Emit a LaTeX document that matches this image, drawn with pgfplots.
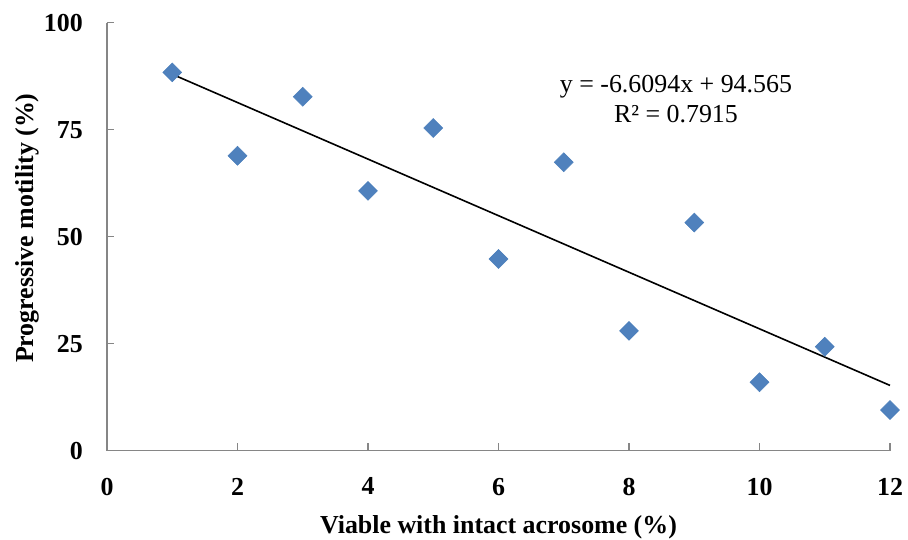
\documentclass[border=0pt]{standalone}
\usepackage{fontspec}
\setmainfont{Liberation Serif}
\usepackage{pgfplots}
\pgfplotsset{compat=1.18}
\definecolor{mblue}{HTML}{4A7EBB}
\definecolor{mfill}{HTML}{4F81BD}
\definecolor{axgray}{HTML}{868686}
\begin{document}
\begin{tikzpicture}
\useasboundingbox (-107bp,-89.3bp) rectangle (801bp,450.7bp);
\begin{axis}[
  at={(0,0)}, anchor=south west,
  scale only axis, width=783bp, height=428bp,
  xmin=0, xmax=12, ymin=0, ymax=100,
  xtick={0,2,4,6,8,10,12},
  ytick={0,25,50,75,100},
  axis x line=bottom, axis y line=left,
  axis line style={-, draw=axgray, line width=1.5bp},
  tick align=inside,
  major tick length=7.5bp,
  tick style={draw=axgray, line width=1.5bp},
  /pgf/number format/assume math mode=true,
  ticklabel style={font=\fontsize{26}{30}\selectfont\bfseries, inner sep=0pt},
  xticklabel style={anchor=north, yshift=-27bp},
  yticklabel style={anchor=east, xshift=-24bp},
  xlabel={Viable with intact acrosome (\%)},
  ylabel={Progressive motility (\%)},
  label style={font=\fontsize{26}{30}\selectfont\bfseries},
  xlabel style={at={(axis description cs:0.5,-0.1935)}, anchor=base},
  ylabel style={at={(axis description cs:-0.0945,0.52)}, anchor=base},
  clip=false,
]
\addplot[only marks, mark=square*, mark size=6.7bp,
  mark options={rotate=45, fill=mfill, draw=mblue, line width=0.5bp}]
  coordinates {
  (1,88.4) (2,68.9) (3,82.7) (4,60.7) (5,75.4) (6,44.8)
  (7,67.4) (8,28.0) (9,53.3) (10,16.0) (11,24.3) (12,9.5)
  };
\addplot[black, line width=1.6bp] coordinates {(1,87.9556) (12,15.2522)};
\node[anchor=base, font=\fontsize{26}{30}\selectfont, inner sep=0pt] at (axis cs:8.72,83.64) {y = -6.6094x + 94.565};
\node[anchor=base, font=\fontsize{26}{30}\selectfont, inner sep=0pt] at (axis cs:8.72,76.64) {R² = 0.7915};
\end{axis}
\end{tikzpicture}
\end{document}
